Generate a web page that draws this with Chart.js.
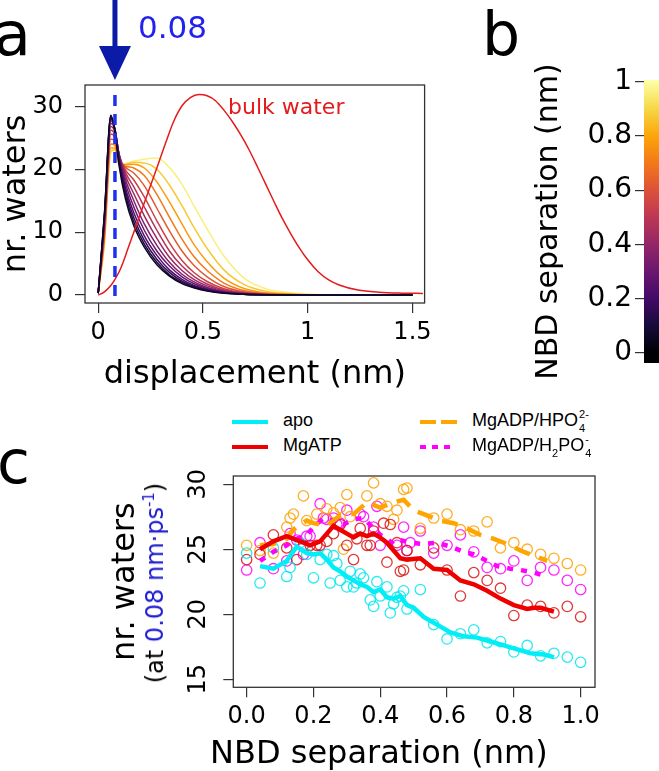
<!DOCTYPE html>
<html>
<head>
<meta charset="utf-8">
<script src="https://cdn.jsdelivr.net/npm/chart.js@4.4.1/dist/chart.umd.min.js"></script>
<style>
body { margin: 0; background: #fff; }
#fig { position: relative; width: 659px; height: 771px; overflow: hidden; font-family: "DejaVu Sans"; color: #000; }
canvas { position: absolute; }
.lbl { position: absolute; white-space: nowrap; }
.panel { font-size: 60px; line-height: 60px; }
.leg { font-family: "Liberation Sans"; font-size: 18px; line-height: 18px; }
.swatch { position: absolute; height: 4px; }
.stk { display: inline-block; position: relative; width: 12px; height: 18px; vertical-align: top; }
.stk span { position: absolute; left: 1px; font-size: 11px; line-height: 11px; }
.up { top: -2px; }
.dn { top: 12px; }
.sb { font-size: 11px; position: relative; top: 6px; }
</style>
</head>
<body>
<div id="fig">
  <canvas id="chartA" width="440" height="400" style="left:0;top:0"></canvas>
  <canvas id="chartB" width="139" height="320" style="left:520px;top:60px"></canvas>
  <canvas id="chartC" width="620" height="316" style="left:0;top:455px"></canvas>

  <div class="lbl panel" style="left:-6px;top:4px">a</div>
  <div class="lbl panel" style="left:482px;top:4px">b</div>
  <div class="lbl panel" style="left:-3px;top:432px">c</div>

  <div class="lbl" style="left:138px;top:12px;font-size:31px;line-height:31px;color:#2222ee">0.08</div>
  <div class="lbl" style="left:228px;top:96px;font-size:22px;line-height:22px;color:#e41a1c">bulk water</div>

  <div class="swatch" style="left:232px;top:420px;width:36px;background:#00eef5"></div>
  <div class="swatch" style="left:232px;top:445px;width:36px;background:#ee0000"></div>
  <div class="swatch" style="left:420px;top:420px;width:37px;background:repeating-linear-gradient(to right,#ffa500 0 16px,transparent 16px 21px)"></div>
  <div class="swatch" style="left:420px;top:445px;width:32px;background:repeating-linear-gradient(to right,#ff00ff 0 6px,transparent 6px 12px)"></div>
  <div class="lbl leg" style="left:283px;top:411px">apo</div>
  <div class="lbl leg" style="left:283px;top:436px">MgATP</div>
  <div class="lbl leg" style="left:472px;top:411px">MgADP/HPO<span class="stk"><span class="up">2-</span><span class="dn">4</span></span></div>
  <div class="lbl leg" style="left:472px;top:436px">MgADP/H<span class="sb">2</span>PO<span class="stk"><span class="up">-</span><span class="dn">4</span></span></div>

  <div class="lbl" style="left:155px;top:583px;font-size:24px;line-height:24px;transform:translate(-50%,-50%) rotate(-90deg)">(at <span style="color:#2020d0">0.08 nm·ps<sup style="font-size:15px;line-height:0">-1</sup></span>)</div>
  <div class="lbl" style="left:210px;top:736px;font-size:32px;line-height:32px">NBD separation (nm)</div>
</div>

<script>
// ---------- panel a: water count vs displacement ----------
var dispGrid = [0, 0.03, 0.06, 0.08, 0.1, 0.13, 0.17, 0.22, 0.28, 0.34, 0.4, 0.46, 0.52, 0.6, 0.7, 0.8, 0.95, 1.2, 1.5];
// NBD separation (nm) of each run, and its water profile on dispGrid
var curveSeps = [0.06, 0.12, 0.18, 0.24, 0.3, 0.36, 0.42, 0.48, 0.54, 0.62, 0.7, 0.78, 0.87, 0.96];
var curveWaters = [
  [0.3, 13, 28.6, 26.0, 20.5, 15.3, 11.0, 7.6, 4.8, 3.0, 1.8, 1.1, 0.62, 0.28, 0.1, 0.03, 0.01, 0, 0],
  [0.3, 13, 28.4, 26.2, 21.0, 15.9, 11.6, 8.1, 5.2, 3.2, 2.0, 1.2, 0.7, 0.3, 0.11, 0.04, 0.01, 0, 0],
  [0.3, 12.5, 28.2, 26.3, 21.4, 16.5, 12.3, 8.7, 5.7, 3.6, 2.2, 1.35, 0.8, 0.35, 0.12, 0.04, 0.01, 0, 0],
  [0.3, 12.5, 28.0, 26.4, 21.8, 17.1, 13.1, 9.4, 6.3, 4.0, 2.5, 1.5, 0.9, 0.4, 0.14, 0.05, 0.01, 0, 0],
  [0.3, 12, 27.7, 26.4, 22.1, 17.8, 14.0, 10.3, 7.0, 4.6, 2.9, 1.75, 1.05, 0.47, 0.16, 0.05, 0.01, 0, 0],
  [0.3, 12, 27.3, 26.2, 22.3, 18.4, 15.0, 11.3, 7.9, 5.2, 3.3, 2.05, 1.2, 0.55, 0.19, 0.06, 0.01, 0, 0],
  [0.3, 11.5, 26.8, 25.9, 22.4, 19.0, 16.1, 12.6, 9.0, 6.0, 3.9, 2.4, 1.45, 0.65, 0.23, 0.07, 0.02, 0, 0],
  [0.3, 11, 26.2, 25.5, 22.3, 19.5, 17.2, 14.0, 10.3, 7.0, 4.6, 2.9, 1.75, 0.8, 0.28, 0.09, 0.02, 0, 0],
  [0.3, 10.5, 25.6, 25.0, 22.1, 19.9, 18.3, 15.6, 11.8, 8.3, 5.5, 3.5, 2.15, 1.0, 0.35, 0.11, 0.02, 0, 0],
  [0.3, 10, 24.8, 24.4, 21.7, 20.3, 19.4, 17.4, 13.8, 10.2, 7.0, 4.6, 2.9, 1.35, 0.48, 0.15, 0.03, 0, 0],
  [0.3, 9.5, 24.0, 23.8, 21.3, 20.5, 20.2, 19.0, 16.0, 12.4, 8.9, 6.0, 3.9, 1.9, 0.68, 0.22, 0.05, 0, 0],
  [0.3, 9, 23.4, 23.4, 21.0, 20.7, 20.8, 20.2, 18.0, 14.8, 11.3, 7.9, 5.3, 2.7, 1.0, 0.35, 0.08, 0.01, 0],
  [0.3, 8.5, 22.9, 23.1, 20.8, 20.8, 21.1, 21.0, 20.0, 17.5, 14.2, 10.6, 7.4, 4.0, 1.6, 0.6, 0.14, 0.01, 0],
  [0.3, 8, 22.6, 23.0, 20.6, 20.9, 21.3, 21.6, 21.8, 20.3, 17.6, 14.0, 10.5, 6.2, 2.6, 1.0, 0.25, 0.02, 0]
];
var bulkDisp = [0, 0.03, 0.06, 0.08, 0.1, 0.12, 0.14, 0.17, 0.2, 0.24, 0.28, 0.32, 0.36, 0.4, 0.44, 0.48, 0.52, 0.56, 0.6, 0.64, 0.68, 0.72, 0.76, 0.8, 0.84, 0.88, 0.92, 0.96, 1.0, 1.05, 1.1, 1.15, 1.24, 1.34, 1.45, 1.55];
var bulkWaters = [0, 0.5, 1.5, 2.5, 3.7, 5.3, 7.2, 10.0, 12.8, 16.5, 20.2, 24.0, 27.6, 30.1, 31.4, 31.9, 31.7, 30.9, 29.4, 27.6, 25.5, 23.1, 20.4, 17.6, 14.8, 12.1, 9.7, 7.5, 5.6, 3.7, 2.4, 1.6, 0.8, 0.45, 0.3, 0.25];
var threshold = 0.08;
var dispTicks = [0, 0.5, 1, 1.5];
var waterTicksA = [0, 10, 20, 30];

// ---------- panel b: colour bar ----------
var sepTicks = [0, 0.2, 0.4, 0.6, 0.8, 1];
var barRange = [-0.037, 1.006];
var infernoStops = ['#000004', '#160b39', '#420a68', '#6a176e', '#932667', '#bc3754', '#dd513a', '#f37819', '#fca50a', '#f6d746', '#fcffa4'];

// ---------- panel c: waters at 0.08 nm/ps vs NBD separation ----------
var apoSep = [0, 0.04, 0.08, 0.12, 0.13, 0.16, 0.18, 0.2, 0.22, 0.24, 0.25, 0.26, 0.27, 0.28, 0.3, 0.31, 0.32, 0.33, 0.34, 0.35, 0.37, 0.38, 0.39, 0.4, 0.42, 0.43, 0.44, 0.45, 0.46, 0.47, 0.48, 0.52, 0.56, 0.6, 0.64, 0.68, 0.72, 0.76, 0.8, 0.84, 0.88, 0.92, 0.96, 1.0];
var apoWat = [24.7, 22.4, 25.1, 22.9, 23.6, 25.5, 24.6, 22.8, 24.2, 24.6, 22.4, 24.5, 23.9, 22.6, 22.1, 23.3, 22.1, 22.4, 23.1, 22.8, 21.1, 20.6, 22.5, 21.4, 22.1, 20.1, 20.8, 21.3, 21.4, 21.8, 20.4, 21.9, 19.2, 18.1, 18.5, 18.8, 17.8, 17.9, 17.1, 17.6, 16.8, 17.0, 16.7, 16.3];
var apoLineSep = [0.04, 0.08, 0.12, 0.15, 0.18, 0.2, 0.22, 0.24, 0.26, 0.28, 0.3, 0.32, 0.34, 0.36, 0.38, 0.4, 0.42, 0.44, 0.46, 0.48, 0.5, 0.53, 0.57, 0.61, 0.65, 0.69, 0.73, 0.77, 0.81, 0.85, 0.89, 0.92];
var apoLineWat = [23.7, 23.5, 24.1, 25.2, 24.7, 24.6, 24.7, 24.2, 23.6, 23.3, 22.9, 22.6, 22.3, 22.1, 21.7, 21.9, 21.3, 21.2, 21.4, 20.7, 20.5, 19.8, 19.2, 18.6, 18.3, 18.2, 17.9, 17.6, 17.3, 17.0, 16.9, 16.7];

var atpSep = [0, 0.04, 0.08, 0.12, 0.15, 0.17, 0.19, 0.21, 0.22, 0.24, 0.26, 0.28, 0.3, 0.32, 0.33, 0.34, 0.36, 0.37, 0.38, 0.41, 0.42, 0.43, 0.45, 0.46, 0.47, 0.48, 0.52, 0.56, 0.6, 0.64, 0.68, 0.72, 0.76, 0.8, 0.84, 0.88, 0.92, 0.96, 1.0];
var atpWat = [24.2, 24.6, 26.1, 25.1, 24.2, 25.3, 25.3, 25.3, 25.3, 25.6, 26.2, 26.9, 25.3, 24.2, 25.8, 26.6, 25.3, 25.3, 26.4, 27.0, 24.0, 26.9, 25.5, 23.3, 23.4, 24.9, 23.8, 25.1, 23.4, 21.4, 23.2, 22.6, 22.0, 19.9, 20.7, 20.6, 20.1, 20.6, 19.8];
var atpLineSep = [0.04, 0.08, 0.12, 0.15, 0.17, 0.19, 0.22, 0.24, 0.26, 0.28, 0.3, 0.32, 0.34, 0.36, 0.38, 0.4, 0.42, 0.44, 0.46, 0.48, 0.52, 0.56, 0.6, 0.64, 0.68, 0.72, 0.76, 0.8, 0.84, 0.86, 0.88, 0.92];
var atpLineWat = [25.0, 25.6, 26.0, 25.7, 25.5, 25.3, 25.6, 26.2, 26.8, 26.5, 26.2, 25.9, 26.2, 26.0, 26.2, 25.9, 25.5, 24.9, 24.3, 24.2, 24.3, 23.5, 23.4, 22.6, 22.3, 21.8, 21.2, 20.7, 20.4, 20.5, 20.5, 20.2];

var hpoSep = [0, 0.04, 0.08, 0.12, 0.13, 0.14, 0.17, 0.18, 0.21, 0.24, 0.26, 0.28, 0.29, 0.3, 0.31, 0.36, 0.38, 0.4, 0.42, 0.44, 0.45, 0.47, 0.48, 0.52, 0.56, 0.6, 0.64, 0.68, 0.72, 0.76, 0.8, 0.84, 0.88, 0.92, 0.96, 1.0];
var hpoWat = [25.3, 24.9, 24.7, 26.7, 27.4, 27.7, 29.1, 27.2, 27.7, 28.1, 27.8, 28.2, 25.0, 29.2, 27.5, 29.1, 30.1, 28.5, 28.3, 27.3, 28.0, 29.6, 29.7, 26.6, 27.4, 27.7, 26.5, 26.4, 27.1, 25.1, 25.5, 25.0, 24.6, 24.3, 23.9, 23.4];
var hpoLineSep = [0.04, 0.08, 0.12, 0.14, 0.16, 0.18, 0.2, 0.24, 0.28, 0.32, 0.36, 0.4, 0.44, 0.47, 0.5, 0.54, 0.58, 0.62, 0.66, 0.7, 0.74, 0.78, 0.82, 0.86, 0.9];
var hpoLineWat = [25.3, 25.4, 25.8, 26.5, 26.9, 27.2, 27.0, 26.8, 27.6, 27.7, 28.6, 28.2, 28.6, 28.8, 28.0, 27.6, 27.2, 27.0, 26.6, 26.1, 25.8, 25.4, 24.9, 24.5, 24.1];

var h2poSep = [0, 0.04, 0.08, 0.12, 0.13, 0.15, 0.17, 0.18, 0.19, 0.22, 0.23, 0.24, 0.26, 0.27, 0.28, 0.3, 0.34, 0.35, 0.38, 0.39, 0.4, 0.45, 0.47, 0.48, 0.49, 0.52, 0.56, 0.6, 0.64, 0.68, 0.72, 0.76, 0.8, 0.84, 0.88, 0.92, 0.96, 1.0];
var h2poWat = [23.4, 25.5, 23.5, 24.1, 26.2, 25.7, 24.6, 26.0, 26.0, 28.5, 27.4, 27.3, 27.4, 26.9, 27.0, 28.0, 27.7, 27.5, 26.7, 28.3, 25.3, 25.3, 26.7, 24.9, 25.5, 26.4, 24.7, 25.3, 26.1, 24.8, 23.6, 23.5, 24.1, 22.6, 23.6, 23.4, 22.6, 21.9];
var h2poLineSep = [0.04, 0.08, 0.12, 0.14, 0.18, 0.2, 0.23, 0.26, 0.29, 0.32, 0.35, 0.38, 0.4, 0.42, 0.44, 0.46, 0.49, 0.53, 0.57, 0.61, 0.65, 0.68, 0.72, 0.75, 0.79, 0.82, 0.86, 0.9];
var h2poLineWat = [24.1, 24.8, 25.3, 25.7, 26.1, 26.7, 27.4, 27.2, 26.9, 27.3, 27.4, 26.6, 26.1, 25.8, 25.4, 25.7, 25.5, 25.4, 25.5, 25.2, 24.8, 24.6, 24.1, 23.7, 23.5, 23.4, 23.2, 22.9];

var sepTicksC = [0, 0.2, 0.4, 0.6, 0.8, 1.0];
var waterTicksC = [15, 20, 25, 30];

Chart.defaults.font.family = 'DejaVu Sans';
Chart.defaults.color = '#000';

function hexRgb(h) {
  return [parseInt(h.substr(1, 2), 16), parseInt(h.substr(3, 2), 16), parseInt(h.substr(5, 2), 16)];
}
function inferno(t) {
  var p = Math.max(0, Math.min(1, t)) * (infernoStops.length - 1);
  var i = Math.min(Math.floor(p), infernoStops.length - 2), f = p - i;
  var a = hexRgb(infernoStops[i]), b = hexRgb(infernoStops[i + 1]);
  return 'rgb(' + [0, 1, 2].map(function(k) { return Math.round(a[k] + (b[k] - a[k]) * f); }).join(',') + ')';
}
function pts(xs, ys) {
  return xs.map(function(x, i) { return {x: x, y: ys[i]}; });
}
function fixedTicks(list) {
  return function(scale) { scale.ticks = list.map(function(v) { return {value: v}; }); };
}
function plainLabel(v) { return String(v); }

var tickFont = {family: 'DejaVu Sans', size: 24, lineHeight: 1};
var tickGrid = {drawOnChartArea: false, tickLength: 10, color: '#333', lineWidth: 1.2};

// frame around the plotting region, like R's box()
var boxPlugin = {
  id: 'box',
  afterDraw: function(chart) {
    var a = chart.chartArea, ctx = chart.ctx;
    ctx.save();
    ctx.strokeStyle = '#333';
    ctx.lineWidth = 1.3;
    ctx.strokeRect(a.left, a.top, a.right - a.left, a.bottom - a.top);
    ctx.restore();
  }
};

// dashed marker at the chosen displacement + arrow above the plot
var thresholdPlugin = {
  id: 'threshold',
  afterDatasetsDraw: function(chart) {
    var ctx = chart.ctx, a = chart.chartArea;
    var x = chart.scales.x.getPixelForValue(threshold);
    ctx.save();
    ctx.strokeStyle = '#2030f0';
    ctx.lineWidth = 3.5;
    ctx.setLineDash([11, 8]);
    ctx.beginPath();
    ctx.moveTo(x, a.top + 10);
    ctx.lineTo(x, a.bottom);
    ctx.stroke();
    ctx.setLineDash([]);
    ctx.strokeStyle = ctx.fillStyle = '#0c1aa8';
    ctx.lineWidth = 5;
    ctx.beginPath();
    ctx.moveTo(x, 0);
    ctx.lineTo(x, 50);
    ctx.stroke();
    ctx.beginPath();
    ctx.moveTo(x - 16, 46);
    ctx.lineTo(x + 16, 46);
    ctx.lineTo(x, 80);
    ctx.closePath();
    ctx.fill();
    ctx.restore();
  }
};

// ---- chart a ----
var famSets = curveSeps.map(function(s, k) {
  return {
    data: pts(dispGrid, curveWaters[k]),
    borderColor: inferno(s),
    borderWidth: 1.5,
    showLine: true,
    pointRadius: 0,
    cubicInterpolationMode: 'monotone',
    order: 2
  };
});
famSets.push({
  data: pts(bulkDisp, bulkWaters),
  borderColor: '#e41a1c',
  borderWidth: 1.5,
  showLine: true,
  pointRadius: 0,
  cubicInterpolationMode: 'monotone',
  order: 1
});

new Chart(document.getElementById('chartA'), {
  type: 'scatter',
  data: {datasets: famSets},
  options: {
    responsive: false,
    animation: false,
    layout: {padding: {top: 85, right: 13, left: 0, bottom: 0}},
    plugins: {legend: {display: false}, tooltip: {enabled: false}},
    scales: {
      x: {
        type: 'linear', min: -0.063, max: 1.558,
        afterBuildTicks: fixedTicks(dispTicks),
        ticks: {font: tickFont, padding: 8, color: '#000', callback: plainLabel},
        grid: tickGrid,
        border: {display: false},
        title: {display: true, text: 'displacement (nm)', font: {size: 32, lineHeight: 1}, padding: {top: 0, bottom: 9}, color: '#000'},
        afterFit: function(s) { s.height = 97; }
      },
      y: {
        type: 'linear', min: -1.27, max: 33.4,
        afterBuildTicks: fixedTicks(waterTicksA),
        ticks: {font: tickFont, padding: 12, color: '#000', callback: plainLabel},
        grid: tickGrid,
        border: {display: false},
        title: {display: true, text: 'nr. waters', font: {size: 32, lineHeight: 1}, padding: {top: 1, bottom: 0}, color: '#000'},
        afterFit: function(s) { s.width = 85; }
      }
    }
  },
  plugins: [boxPlugin, thresholdPlugin]
});

// ---- chart b (colour bar) ----
new Chart(document.getElementById('chartB'), {
  type: 'bar',
  data: {
    labels: [''],
    datasets: [{
      data: [barRange],
      barPercentage: 1,
      categoryPercentage: 1,
      borderWidth: 0,
      backgroundColor: function(c) {
        var chart = c.chart;
        if (!chart.chartArea) return '#888';
        var y = chart.scales.y;
        var g = chart.ctx.createLinearGradient(0, y.getPixelForValue(0), 0, y.getPixelForValue(1));
        infernoStops.forEach(function(col, i) { g.addColorStop(i / (infernoStops.length - 1), col); });
        return g;
      }
    }]
  },
  options: {
    responsive: false,
    animation: false,
    layout: {padding: {top: 20, bottom: 15, left: 0, right: 0}},
    plugins: {legend: {display: false}, tooltip: {enabled: false}},
    scales: {
      x: {display: false},
      y: {
        min: barRange[0], max: barRange[1],
        afterBuildTicks: fixedTicks(sepTicks),
        ticks: {font: {family: 'DejaVu Sans', size: 28, lineHeight: 1}, padding: 3, color: '#000', callback: plainLabel},
        grid: {drawOnChartArea: false, tickLength: 9, color: '#333', lineWidth: 1.2},
        border: {display: false},
        title: {display: true, text: 'NBD separation (nm)', font: {size: 30, lineHeight: 1}, padding: {top: 14, bottom: 0}, color: '#000'},
        afterFit: function(s) { s.width = 124; }
      }
    }
  }
});

// ---- chart c ----
function scatterSet(xs, ys, col) {
  return {data: pts(xs, ys), showLine: false, pointRadius: 5.2, pointStyle: 'circle',
    pointBorderWidth: 1.3, pointBorderColor: col, pointBackgroundColor: 'rgba(0,0,0,0)', order: 2};
}
function lineSet(xs, ys, col, dash) {
  return {data: pts(xs, ys), showLine: true, pointRadius: 0, borderColor: col, borderWidth: 4.5,
    borderDash: dash, borderCapStyle: 'butt', order: 1};
}

new Chart(document.getElementById('chartC'), {
  type: 'scatter',
  data: {
    datasets: [
      scatterSet(apoSep, apoWat, 'rgba(0,230,240,0.85)'),
      scatterSet(atpSep, atpWat, 'rgba(220,20,20,0.85)'),
      scatterSet(hpoSep, hpoWat, 'rgba(255,160,0,0.85)'),
      scatterSet(h2poSep, h2poWat, 'rgba(255,0,255,0.85)'),
      lineSet(apoLineSep, apoLineWat, '#00eef5', []),
      lineSet(atpLineSep, atpLineWat, '#ee0000', []),
      lineSet(hpoLineSep, hpoLineWat, '#ffa500', [16, 10]),
      lineSet(h2poLineSep, h2poLineWat, '#ff00ff', [6, 8])
    ]
  },
  options: {
    responsive: false,
    animation: false,
    layout: {padding: {top: 14.3, right: 25, left: 0, bottom: 0}},
    plugins: {legend: {display: false}, tooltip: {enabled: false}},
    scales: {
      x: {
        type: 'linear', min: -0.04, max: 1.043,
        afterBuildTicks: fixedTicks(sepTicksC),
        ticks: {font: tickFont, padding: 7, color: '#000', callback: function(v) { return v.toFixed(1); }},
        grid: tickGrid,
        border: {display: false},
        afterFit: function(s) { s.height = 83.7; }
      },
      y: {
        type: 'linear', min: 14.38, max: 30.63,
        afterBuildTicks: fixedTicks(waterTicksC),
        ticks: {font: tickFont, padding: 9, color: '#000', minRotation: 90, maxRotation: 90, crossAlign: 'center', callback: plainLabel},
        grid: tickGrid,
        border: {display: false},
        title: {display: true, text: 'nr. waters', font: {size: 32, lineHeight: 1}, padding: {top: 110, bottom: 0}, color: '#000'},
        afterFit: function(s) { s.width = 233.3; }
      }
    }
  },
  plugins: [boxPlugin]
});
</script>
</body>
</html>
